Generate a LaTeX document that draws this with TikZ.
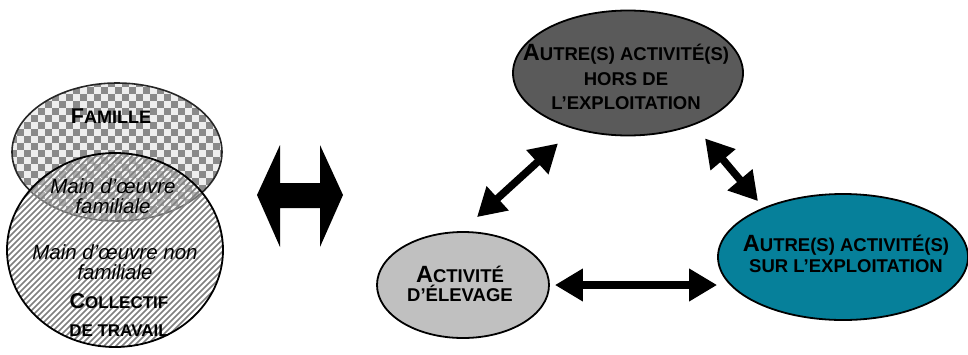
\documentclass[tikz,border=0pt]{standalone}
\usepackage{fontspec}
\setmainfont{Liberation Sans}
\usetikzlibrary{arrows.meta,shapes.geometric}

\definecolor{checkdark}{HTML}{8A8A8A}
\definecolor{checklight}{HTML}{EEEEEE}
\definecolor{hatchgray}{HTML}{7F7F7F}
\definecolor{horsgray}{HTML}{5A5A5A}
\definecolor{surteal}{HTML}{06809A}
\definecolor{elevgray}{HTML}{C0C0C0}

% enlarged initial letter for the fake small capitals
\newcommand\capL[1]{{\fontsize{23.5}{24.5}\selectfont #1}}
\newcommand\capM[1]{{\fontsize{21.5}{28}\selectfont #1}}

\begin{document}
\begin{tikzpicture}[x=1pt,y=-1pt,
  activity/.style={ellipse, draw=black, line width=1.8pt, inner sep=0pt},
  sclabel/.style={font=\bfseries\fontsize{18.5}{24.5}\selectfont, align=center, inner sep=0pt},
  venncaps/.style={font=\bfseries\fontsize{17}{28.5}\selectfont, align=center, inner sep=0pt},
  vennital/.style={font=\itshape\fontsize{20.5}{20.5}\selectfont, align=center, inner sep=0pt},
  twoway/.style={line width=7.5pt, {Triangle[length=28pt,width=31pt]}-{Triangle[length=28pt,width=31pt]}},
]
\useasboundingbox (0,0) rectangle (968,354);

% Famille: checkerboard ellipse
\begin{scope}
  \clip (117,152) ellipse [x radius=105, y radius=69];
  \fill[checklight] (10,80) rectangle (225,225);
  \foreach \j in {0,...,20}{
    \pgfmathsetmacro\off{mod(\j,2)*7}
    \foreach \i in {0,14,...,210}{
      \fill[checkdark] (10+\i+\off, 80+7*\j) rectangle ++(7,7);
    }
  }
\end{scope}
\draw[line width=1.6pt, black!85] (117,152) ellipse [x radius=105, y radius=69];

% Collectif de travail: hatched circle laid over the family
\begin{scope}
  \clip (115,250) ellipse [x radius=108, y radius=97];
  \fill[white, opacity=0.35] (0,150) rectangle (230,350);
  \foreach \k in {-200,-194,...,230}
    \draw[hatchgray, line width=1.7pt] (\k,350) -- ++(200,-200);
\end{scope}
\draw[line width=1.8pt] (115,250) ellipse [x radius=108, y radius=97];

\node[venncaps, font=\bfseries\fontsize{18}{28}\selectfont, anchor=base] (famtext) at (111,123) {\capM{F}AMILLE};
\node[vennital] (mainfam) at (113,196) {Main d’œuvre\\familiale};
\node[vennital] (mainnonfam) at (115,262) {Main d’œuvre non\\familiale};
\node[venncaps] (colltext) at (119,315) {\capM{C}OLLECTIF\\DE TRAVAIL};

% broad double arrow between the two halves
\fill (257,195) -- (280,145) -- (280,183) -- (320,183) -- (320,145) -- (343,195)
  -- (320,247) -- (320,208) -- (280,208) -- (280,247) -- cycle;

% the three activities
\node[activity, fill=horsgray, minimum width=230pt, minimum height=125pt] (hors) at (628,73) {};
\node[activity, fill=surteal, minimum width=250pt, minimum height=126pt] (sur) at (843,257) {};
\node[activity, fill=elevgray, minimum width=172pt, minimum height=106pt] (elev) at (463,285) {};

\node[sclabel] (horstext) at (626,77) {\capL{A}UTRE(S) ACTIVITÉ(S)\\HORS DE\\L’EXPLOITATION};
\node[sclabel, font=\bfseries\fontsize{18.5}{21.5}\selectfont] (surtext) at (846,254) {\capL{A}UTRE(S) ACTIVITÉ(S)\\SUR L’EXPLOITATION};
\node[sclabel, font=\bfseries\fontsize{18.5}{19.5}\selectfont] (elevtext) at (460,284) {\capL{A}CTIVITÉ\\D’ÉLEVAGE};

% links between activities
\draw[twoway] ([xshift=5pt]elev.east) -- (sur.west |- elev.east);
\draw[twoway] ([shift={(14,-14)}]elev.north) -- ([shift={(-70,7)}]hors.south);
\draw[twoway] ([shift={(77,2)}]hors.south) -- ([shift={(-85,8)}]sur.north);
\end{tikzpicture}
\end{document}
